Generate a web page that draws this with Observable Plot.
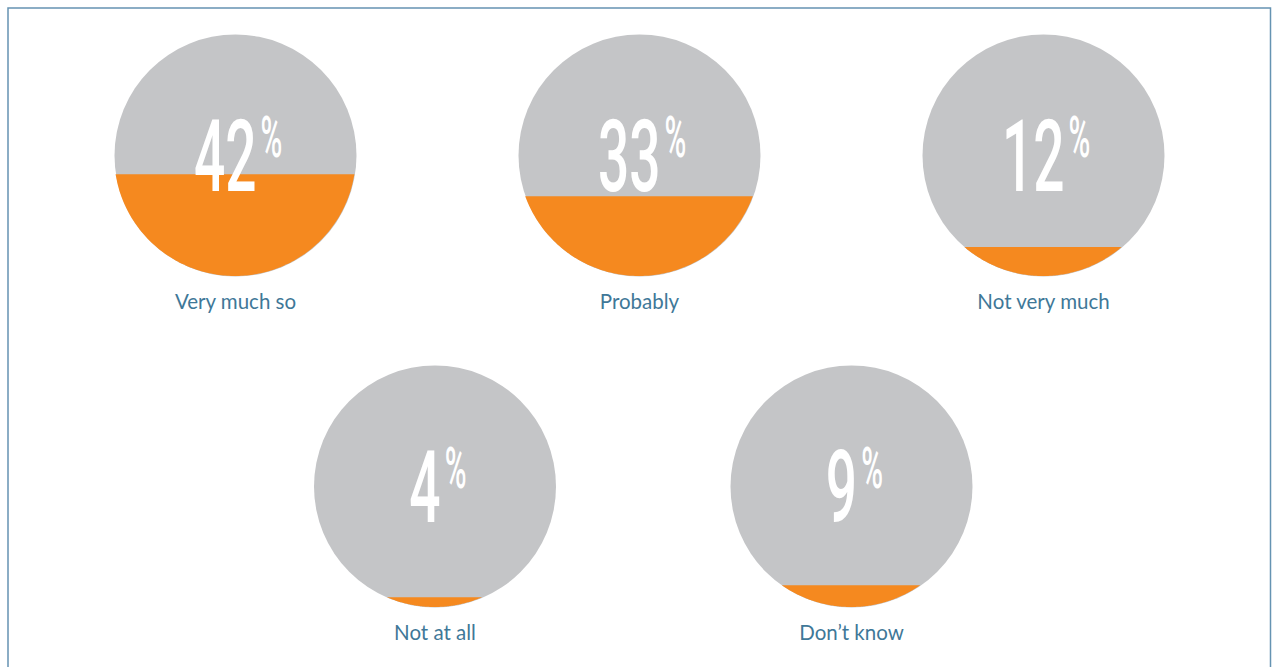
<!DOCTYPE html>
<html>
<head>
<meta charset="utf-8">
<script src="https://cdn.jsdelivr.net/npm/d3@7"></script>
<script src="https://cdn.jsdelivr.net/npm/@observablehq/plot@0.6"></script>
<style>
  html, body { margin: 0; padding: 0; background: #ffffff; }
  #chart svg { display: block; }
</style>
</head>
<body>
<div id="chart"></div>
<script>
// ---- data ----
const categories = ["Very much so", "Probably", "Not very much", "Not at all", "Don’t know"];
const values = [42, 33, 12, 4, 9];

// ---- layout ----
const W = 1274, H = 667;
const R = 121;
const rowSpec = [
  {count: 3, x0: 235, step: 404, cy: 155},
  {count: 2, x0: 434.5, step: 416.5, cy: 486}
];
const table = [];
let k = 0;
rowSpec.forEach(row => {
  for (let c = 0; c < row.count; c++, k++) {
    table.push({label: categories[k], value: values[k], cx: row.x0 + c * row.step, cy: row.cy});
  }
});

// orange fill segment (height proportional to value) sampled along the circle
const segment = table.flatMap(d => {
  const p = d.value / 100;
  const yl = d.cy + R - 2 * R * p;
  const w = Math.sqrt(Math.max(0, R * R - (yl - d.cy) ** 2));
  return d3.range(0, 121).map(j => {
    const x = d.cx - w + (2 * w * j) / 120;
    const yb = d.cy + Math.sqrt(Math.max(0, R * R - (x - d.cx) ** 2));
    return {label: d.label, x, y1: yl, y2: yb};
  });
});

const SX = 0.55;    // condense factor for digits
const SXP = 0.52;   // condense factor for % sign
const PCT_SIZE = 57;
const digitW = 100 * 0.562 * SX;
const pctW = PCT_SIZE * 0.73 * SXP;
const gap = 4;
const numEnd = d => {
  const n = String(d.value).length;
  const gw = n * digitW + gap + pctW;
  return d.cx + 3 - gw / 2 + n * digitW;
};

const chart = Plot.plot({
  width: W,
  height: H,
  margin: 0,
  x: {domain: [0, W], range: [0, W], axis: null},
  y: {domain: [0, H], range: [0, H], axis: null},
  style: {background: "white"},
  marks: [
    Plot.frame({stroke: "#6593b2", strokeWidth: 1.5, insetLeft: 7.5, insetTop: 7.5, insetRight: 4, insetBottom: -10}),
    Plot.dot(table, {x: "cx", y: "cy", r: R, fill: "#c4c5c7", stroke: null}),
    Plot.areaY(segment, {x: "x", y1: "y1", y2: "y2", z: "label", fill: "#f5891f", curve: "linear"}),
    Plot.text(table, {
      x: d => numEnd(d), y: d => d.cy + 35, text: d => String(d.value),
      textAnchor: "end", lineAnchor: "bottom", fontSize: 100, fontFamily: "Roboto",
      fontWeight: 500, fill: "white"
    }),
    Plot.text(table, {
      x: d => numEnd(d) + gap, y: d => d.cy + 1, text: () => "%",
      textAnchor: "start", lineAnchor: "bottom", fontSize: PCT_SIZE, fontFamily: "Roboto",
      fontWeight: 500, fill: "white"
    }),
    Plot.text(table, {
      x: "cx", y: d => d.cy + 153, text: "label",
      textAnchor: "middle", lineAnchor: "bottom", fontSize: 20.5, fontFamily: "Lato",
      fill: "#3f7898"
    })
  ]
});

// horizontally condense the big number glyphs about their anchor point
d3.select(chart).selectAll("text")
  .filter(function () { return /^(\d+|%)$/.test(this.textContent.trim()); })
  .each(function () {
    const s = this.textContent.trim() === "%" ? SXP : SX;
    const t = this.getAttribute("transform") || "";
    const xa = parseFloat(this.getAttribute("x")) || 0;
    this.setAttribute("transform", `${t} translate(${xa},0) scale(${s},1) translate(${-xa},0)`);
  });

document.getElementById("chart").appendChild(chart);
</script>
</body>
</html>
